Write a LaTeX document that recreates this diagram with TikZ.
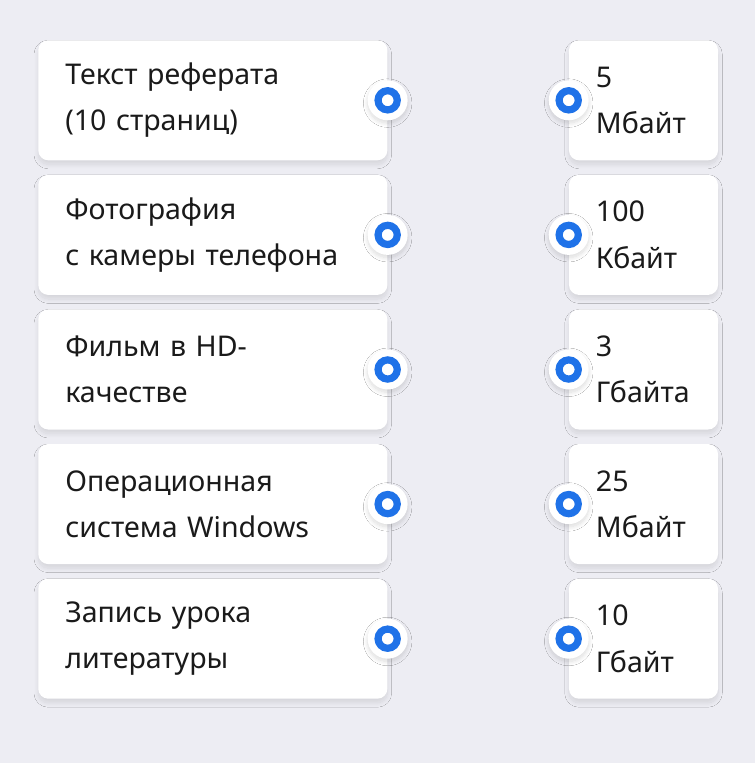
\documentclass[tikz,border=0pt]{standalone}
\usepackage{fontspec}
\setmainfont{Noto Sans}
\usepackage{xcolor}
\usetikzlibrary{positioning}
\usetikzlibrary{shadows.blur}

\definecolor{pagebg}{HTML}{EDEDF3}
\definecolor{ringblue}{HTML}{1F72E8}
\definecolor{inkdark}{HTML}{1A1A1A}

\begin{document}
\begin{tikzpicture}[
    x=0.025cm, y=-0.025cm,
    card/.style={rectangle, fill=white, rounded corners=0.25cm, inner ysep=0pt,
        inner xsep=0.675cm, minimum height=3cm, align=left, text=inkdark,
        font=\fontsize{20.3}{33}\selectfont,
        blur shadow={shadow xshift=0pt, shadow yshift=-3pt, shadow blur radius=3pt,
            shadow blur steps=12, shadow opacity=10}},
    wide/.style={card, text width=7.375cm},
    narrow/.style={card, text width=2.375cm},
    dot/.style={circle, fill=white, minimum size=1cm, inner sep=0pt,
        blur shadow={shadow xshift=0pt, shadow yshift=-2pt, shadow blur radius=3pt,
            shadow blur steps=10, shadow opacity=14},
        path picture={\draw[ringblue, line width=0.18cm] (path picture bounding box.center) circle (0.24cm);}}
]
\fill[pagebg] (0,0) rectangle (755,763);
\useasboundingbox (0,0) rectangle (755,763);

\node[wide, anchor=north west] (1_1) at (38,40) {Текст реферата\\(10 страниц)};
\node[wide] (2_1) [below=0.35cm of 1_1] {Фотография\\с камеры телефона};
\node[wide] (3_1) [below=0.35cm of 2_1] {Фильм в HD-\\качестве};
\node[wide] (4_1) [below=0.35cm of 3_1] {Операционная\\система Windows};
\node[wide] (5_1) [below=0.35cm of 4_1] {Запись урока\\литературы};

\node[narrow] (1_2) [right=4.525cm of 1_1] {5\\Мбайт};
\node[narrow] (2_2) [right=4.525cm of 2_1] {100\\Кбайт};
\node[narrow] (3_2) [right=4.525cm of 3_1] {3\\Гбайта};
\node[narrow] (4_2) [right=4.525cm of 4_1] {25\\Мбайт};
\node[narrow] (5_2) [right=4.525cm of 5_1] {10\\Гбайт};

\foreach \r in {1,...,5} {
    \node[dot] (d\r_1) at (\r_1.east) {};
    \node[dot] (d\r_2) at (\r_2.west) {};
}

\end{tikzpicture}
\end{document}
